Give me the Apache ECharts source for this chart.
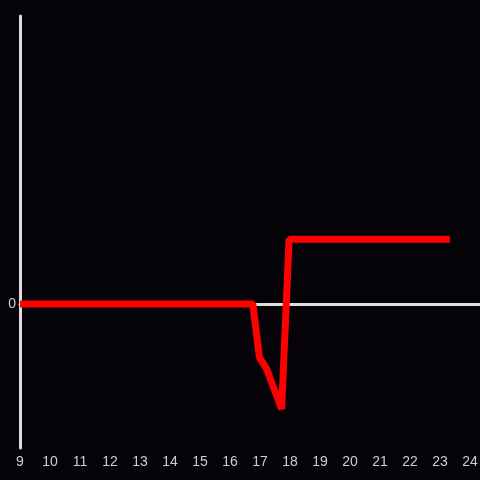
<!DOCTYPE html>
<html>
<head>
<meta charset="utf-8">
<script src="https://cdn.jsdelivr.net/npm/echarts@6/dist/echarts.min.js"></script>
<style>html,body{margin:0;padding:0;background:#050307;}#c{width:480px;height:480px;}</style>
</head>
<body>
<div id="c"></div>
<script>
// Data
const hours = [9, 10, 11, 12, 13, 14, 15, 16, 16.5, 16.76, 16.98, 17.22, 17.72, 17.97, 19, 20, 21, 22, 23, 23.33];
const values = [0, 0, 0, 0, 0, 0, 0, 0, 0, 0, -0.37, -0.45, -0.73, 0.45, 0.45, 0.45, 0.45, 0.45, 0.45, 0.45];
const xTicks = [9, 10, 11, 12, 13, 14, 15, 16, 17, 18, 19, 20, 21, 22, 23, 24];
const yTickShown = [0];

const chart = echarts.init(document.getElementById('c'), null, {renderer: 'canvas'});
const labelColor = '#cfcfcf';
const axisColor = '#dddddd';
chart.setOption({
  backgroundColor: '#050307',
  animation: false,
  grid: {left: 20, right: 0, top: 16, bottom: 32, containLabel: false, outerBoundsMode: 'none'},
  xAxis: [{
    type: 'value', min: 9, max: 24.3333, interval: 1, position: 'bottom',
    axisLine: {show: false, onZero: false},
    axisTick: {show: false},
    splitLine: {show: false},
    axisLabel: {
      color: labelColor, fontSize: 14, margin: 7,
      showMaxLabel: true,
      formatter: v => xTicks.indexOf(Math.round(v * 1000) / 1000) >= 0 ? String(v) : ''
    }
  }, {
    type: 'value', min: 9, max: 24.3333, interval: 1, position: 'bottom',
    axisLine: {show: true, onZero: true, lineStyle: {color: axisColor, width: 3}},
    axisTick: {show: false},
    splitLine: {show: false},
    axisLabel: {show: false}
  }],
  yAxis: {
    type: 'value', min: -1, max: 2, interval: 1,
    axisLine: {show: true, onZero: false, lineStyle: {color: axisColor, width: 3}},
    axisTick: {show: false},
    splitLine: {show: false},
    axisLabel: {
      color: labelColor, fontSize: 14, margin: 4,
      formatter: v => yTickShown.indexOf(v) >= 0 ? String(v) : ''
    }
  },
  series: [{
    type: 'line',
    xAxisIndex: 0,
    data: hours.map((h, i) => [h, values[i]]),
    showSymbol: false,
    symbol: 'none',
    lineStyle: {color: '#ff0000', width: 7},
    z: 5
  }]
});
</script>
</body>
</html>
